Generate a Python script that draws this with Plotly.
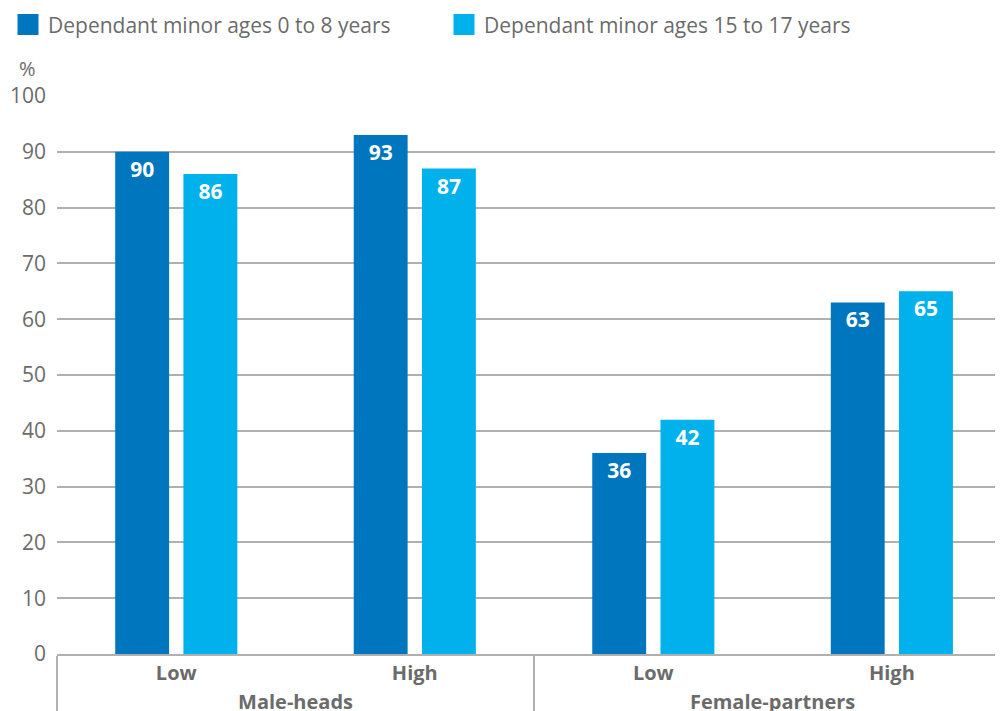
import plotly.graph_objects as go

groups = ["Male-heads", "Male-heads", "Female-partners", "Female-partners"]
levels = ["Low", "High", "Low", "High"]
young = [90, 93, 36, 63]
teen = [86, 87, 42, 65]
series_names = ["Dependant minor ages 0 to 8 years", "Dependant minor ages 15 to 17 years"]
colors = ["#0076BE", "#00B1EB"]
y_ticks = [0, 10, 20, 30, 40, 50, 60, 70, 80, 90, 100]

FONT = "Open Sans"
GRAY = "#6b6b6b"

fig = go.Figure()
for name, vals, col in zip(series_names, [young, teen], colors):
    fig.add_trace(go.Bar(
        x=[groups, levels], y=vals, name=name, marker_color=col,
        marker_line_width=0, showlegend=False,
        text=[str(v) for v in vals], textposition="inside", insidetextanchor="end",
        textfont=dict(family=FONT, size=21, color="white", weight="bold"),
        textangle=0, cliponaxis=False,
    ))
    fig.add_trace(go.Scatter(
        x=[None], y=[None], mode="markers", name=name,
        marker=dict(symbol="square", size=22, color=col, line=dict(color=col, width=5)),
    ))

# the page body adds an 8px offset, so the figure is sized to fit the window
fig.update_layout(
    width=995, height=703,
    margin=dict(l=49, r=0, t=88, b=57, autoexpand=False),
    paper_bgcolor="white", plot_bgcolor="white",
    barmode="group", bargap=0.428, bargroupgap=0.21,
    font=dict(family=FONT, color=GRAY, size=20),
    legend=dict(orientation="h", xref="container", yref="container", x=-0.002, y=0.976,
                xanchor="left", yanchor="middle", font=dict(size=21, color=GRAY),
                itemwidth=30, entrywidth=391, entrywidthmode="pixels"),
)
fig.update_xaxes(
    range=[-0.5, 3.466], showgrid=False, showline=True, linecolor="#b0b0b0", linewidth=1.5,
    ticks="", showdividers=True, dividercolor="#b0b0b0", dividerwidth=1.5, automargin=False,
    tickfont=dict(family=FONT, size=20, color=GRAY, weight="bold"),
)
fig.update_yaxes(
    range=[0, 100], tickvals=y_ticks, showgrid=True, gridcolor="#b0b0b0", gridwidth=1.5,
    zeroline=False, showline=False, ticks="", ticklabelstandoff=10, automargin=False,
    tickfont=dict(family=FONT, size=21, color=GRAY),
)
fig.add_annotation(text="%", xref="paper", yref="paper", x=-0.0307, y=1.05,
                   xanchor="center", yanchor="middle",
                   showarrow=False, font=dict(family=FONT, size=20, color=GRAY))

fig.write_html("out.html")
